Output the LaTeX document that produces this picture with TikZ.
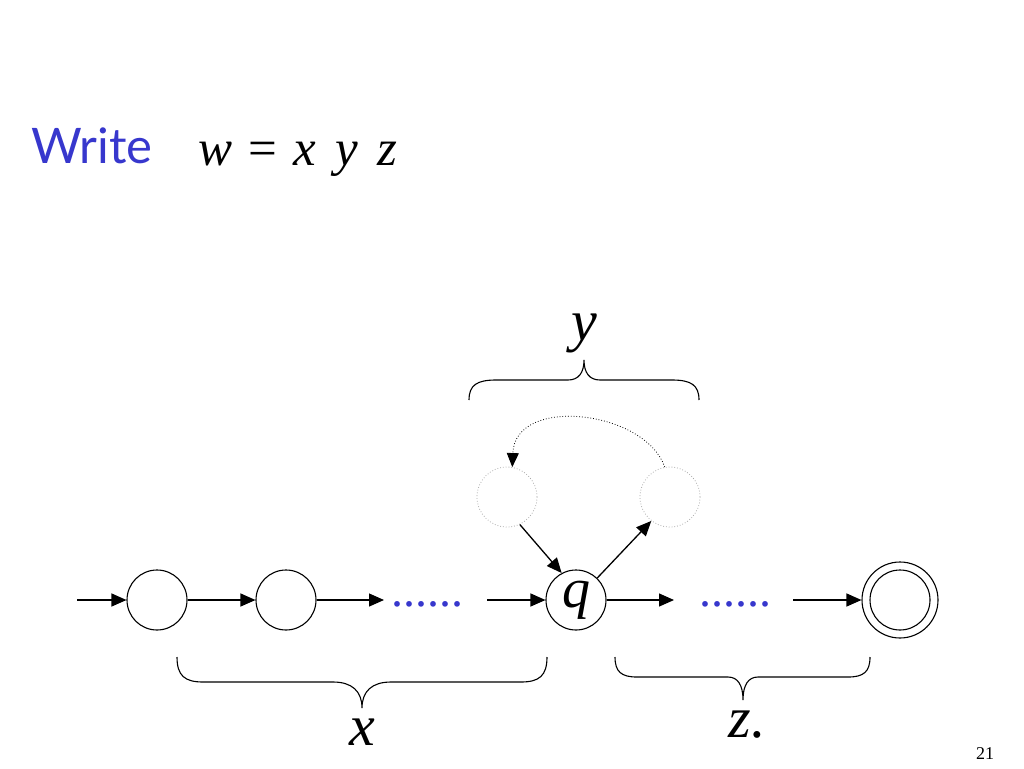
\documentclass[tikz,border=0pt]{standalone}
\usepackage{fontspec}
\setmainfont{Liberation Serif}
\newfontfamily\writefont{Lato}
\usetikzlibrary{arrows.meta}
\definecolor{slideblue}{RGB}{55,55,205}
\definecolor{ghost}{RGB}{170,170,170}
\newcommand\myBrace[9]{%
  % #1 x1, #2 x2, #3 xtip, #4 y end, #5 y mid, #6 y tip, #7 d end, #8 d tip
  \draw[bracestyle] (#1,#4) .. controls (#1,{#4+0.75*(#5-#4)}) and ({#1+0.3*#7},#5) .. ({#1+#7},#5)
    -- ({#3-#8},#5) .. controls ({#3-0.35*#8},#5) and (#3,{#5+0.35*(#6-#5)}) .. (#3,#6)
    .. controls (#3,{#5+0.35*(#6-#5)}) and ({#3+0.35*#8},#5) .. ({#3+#8},#5)
    -- ({#2-#7},#5) .. controls ({#2-0.3*#7},#5) and (#2,{#4+0.75*(#5-#4)}) .. (#2,#4);#9}
\begin{document}
\begin{tikzpicture}[x=1pt,y=-1pt,
  state/.style={circle,draw=black,line width=1.1pt,minimum size=60pt,inner sep=0pt},
  ghoststate/.style={circle,draw=ghost,dotted,line width=0.8pt,minimum size=60pt,inner sep=0pt},
  finalstate/.style={state,minimum size=76pt},
  edge/.style={line width=1.3pt,-{Triangle[length=15pt,width=13pt]}},
  bracestyle/.style={line width=1.1pt},
  mathlbl/.style={font=\fontsize{58}{58}\selectfont\itshape,inner sep=0pt},
  dotslbl/.style={font=\fontsize{48}{48}\selectfont,text=slideblue,inner sep=0pt}]
\useasboundingbox (0,0) rectangle (1024,768);

\node[anchor=base west,font=\writefont\fontsize{49}{49}\selectfont,text=slideblue,inner sep=0pt] (write) at (31,163) {Write};
\node[anchor=base west,font=\fontsize{51}{51}\selectfont,inner sep=0pt] (eq) at (198,165) {\textit{w}\hspace{16pt}=\hspace{17pt}\textit{x}\hspace{19pt}\textit{y}\hspace{19pt}\textit{z}};

\node[state] (s1) at (157,600) {};
\node[state] (s2) at (286,600) {};
\node[dotslbl,anchor=base] (d1) at (427,606) {......};
\node[state,font=\fontsize{56}{56}\selectfont\itshape] (q) at (576,600) {q};
\node[dotslbl,anchor=base] (d2) at (735,606) {......};
\node[finalstate] (f) at (900,600) {};
\draw[line width=1.1pt] (f.center) circle (30);
\node[ghoststate] (l) at (507,497) {};
\node[ghoststate] (r) at (670,497) {};

\coordinate (in) at (77,600);
\coordinate (o1) at (384,600);
\coordinate (i2) at (487,600);
\coordinate (o2) at (674,600);
\coordinate (i3) at (793,600);

\draw[edge] (in) -- (s1);
\draw[edge] (s1) -- (s2);
\draw[edge] (s2.east) -- (o1);
\draw[edge] (i2) -- (q.west);
\draw[edge] (q.east) -- (o2);
\draw[edge] (i3) -- (f);
\draw[edge] (l.-65) -- (q.118);
\draw[edge] (q.46) -- (r.-128);
\draw[line width=0.8pt,dotted,-{Triangle[length=14pt,width=12pt]}] (r.100) .. controls (645,410) and (515,395) .. (l.80);

\myBrace{469}{699}{584}{400}{380}{360}{27}{16}{}
\myBrace{177}{547}{362}{657}{682}{708}{26}{29}{}
\myBrace{615}{870}{743}{657}{677}{700}{22}{15}{}

\node[mathlbl,anchor=base] (ylbl) at (584,340) {y};
\node[mathlbl,anchor=base] (xlbl) at (362,745) {x};
\node[mathlbl,anchor=base] (zlbl) at (747,737) {z.};
\node[anchor=base,font=\fontsize{18}{18}\selectfont,inner sep=0pt] (pg) at (985,759) {21};
\end{tikzpicture}
\end{document}
